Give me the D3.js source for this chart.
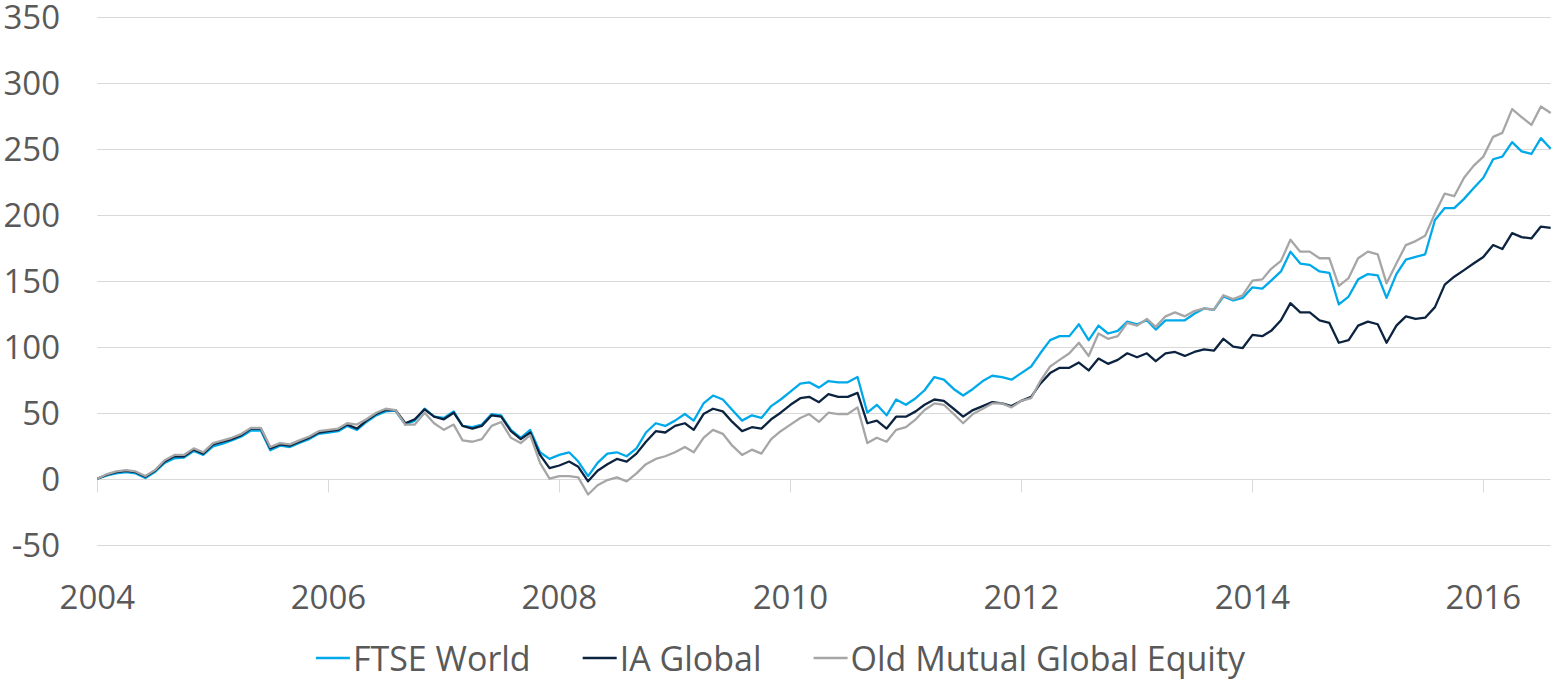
<!DOCTYPE html>
<html>
<head>
<meta charset="utf-8">
<script src="https://cdn.jsdelivr.net/npm/d3@7"></script>
<style>
  html, body { margin: 0; padding: 0; background: #ffffff; }
  svg { display: block; }
</style>
</head>
<body>
<svg id="chart" width="1555" height="681"></svg>
<script>
// ---- data (monthly) ----
const months = [
  "2004-01","2004-02","2004-03","2004-04","2004-05","2004-06","2004-07","2004-08","2004-09","2004-10","2004-11","2004-12",
  "2005-01","2005-02","2005-03","2005-04","2005-05","2005-06","2005-07","2005-08","2005-09","2005-10","2005-11","2005-12",
  "2006-01","2006-02","2006-03","2006-04","2006-05","2006-06","2006-07","2006-08","2006-09","2006-10","2006-11","2006-12",
  "2007-01","2007-02","2007-03","2007-04","2007-05","2007-06","2007-07","2007-08","2007-09","2007-10","2007-11","2007-12",
  "2008-01","2008-02","2008-03","2008-04","2008-05","2008-06","2008-07","2008-08","2008-09","2008-10","2008-11","2008-12",
  "2009-01","2009-02","2009-03","2009-04","2009-05","2009-06","2009-07","2009-08","2009-09","2009-10","2009-11","2009-12",
  "2010-01","2010-02","2010-03","2010-04","2010-05","2010-06","2010-07","2010-08","2010-09","2010-10","2010-11","2010-12",
  "2011-01","2011-02","2011-03","2011-04","2011-05","2011-06","2011-07","2011-08","2011-09","2011-10","2011-11","2011-12",
  "2012-01","2012-02","2012-03","2012-04","2012-05","2012-06","2012-07","2012-08","2012-09","2012-10","2012-11","2012-12",
  "2013-01","2013-02","2013-03","2013-04","2013-05","2013-06","2013-07","2013-08","2013-09","2013-10","2013-11","2013-12",
  "2014-01","2014-02","2014-03","2014-04","2014-05","2014-06","2014-07","2014-08","2014-09","2014-10","2014-11","2014-12",
  "2015-01","2015-02","2015-03","2015-04","2015-05","2015-06","2015-07","2015-08","2015-09","2015-10","2015-11","2015-12",
  "2016-01","2016-02","2016-03","2016-04","2016-05","2016-06","2016-07","2016-08"
];

const ftseWorld = [
  0,2.5,4,5,4,0.5,5,12,15.5,16,21,18,
  24.5,26.5,29,32,36.5,36.5,21.5,25,24,27,30,34,
  35,36,40,37,43,48,51,51.5,41,44,53,47,
  46,51,40,39,41,49,48,37,31,37,20,15,
  18,20,13,2,12,19,20,17,23,35,42,40,
  44,49,44,57,63,60,52,44,48,46,55,60,
  66,72,73,69,74,73,73,77,50,56,48,60,
  56,61,67,77,75,68,63,68,74,78,77,75,
  80,85,95,105,108,108,117,105,116,110,112,119,
  117,120,113,120,120,120,125,129,128,138,135,137,
  145,144,150,157,172,163,162,157,156,132,138,151,
  155,154,137,155,166,168,170,196,205,205,212,220,
  228,242,244,255,248,246,258,250
];

const iaGlobal = [
  0,3,5,6,5,1.5,6,13,17,17,22,19,
  26,28,30,33,38,38,23,26,25,28,31,35,
  36,37,41,38,44,49,52,52,42,45,52.5,47,
  45,50,40,38,40,48,47,36,30,35,18,8,
  10,13,9,-2,6,11,15,13,19,28,36,35,
  40,42,37,49,53,51,43,36,39,38,45,50,
  56,61,62,58,64,62,62,65,42,44,38,47,
  47,51,56,60,59,53,47,52,55,58,57,55,
  59,62,72,80,84,84,88,82,91,87,90,95,
  92,95,89,95,96,93,96,98,97,106,100,99,
  109,108,112,120,133,126,126,120,118,103,105,116,
  119,117,103,116,123,121,122,130,147,153,158,163,
  168,177,174,186,183,182,191,190
];

const oldMutualGlobalEquity = [
  0,3.5,5.5,6.5,5.5,2,6.5,14,18,18,23,20,
  27,29,31,34,38.5,38.5,24,27,26,29,32,36,
  37,38,42,41,45,50,53,52,41,41,50,42,
  37,41,29,28,30,40,43,31,27,33,12,0,
  2,2,1,-12,-5,-1,1,-2,4,11,15,17,
  20,24,20,31,37,34,25,18,22,19,30,36,
  41,46,49,43,50,49,49,54,27,31,28,37,
  39,45,52,57,56,49,42,49,53,57,57,54,
  59,61,74,85,90,95,103,93,110,106,108,118,
  116,121,115,123,126,123,127,129,128,139,136,139,
  150,151,159,165,181,172,172,167,167,146,152,167,
  172,170,148,163,177,180,184,201,216,214,228,237,
  244,259,262,280,274,268,282,277
];

const seriesNames = ["FTSE World", "IA Global", "Old Mutual Global Equity"];
const seriesColors = ["#00a9ea", "#0c2340", "#a6a6a6"];
const yTicks = [-50, 0, 50, 100, 150, 200, 250, 300, 350];
const xTickYears = [2004, 2006, 2008, 2010, 2012, 2014, 2016];

// ---- drawing ----
(function draw() {
  const svg = d3.select("#chart");
  const parse = d3.timeParse("%Y-%m");
  const dates = months.map(parse);

  const plotLeft = 97.3, plotRight = 1550.7, plotTop = 16.7, plotBottom = 544.7;
  const x = d3.scaleTime().domain([dates[0], dates[dates.length - 1]]).range([plotLeft, plotRight]);
  const y = d3.scaleLinear().domain([-50, 350]).range([plotBottom, plotTop]);

  const gridColor = "#d9d9d9";
  const textColor = "#595959";
  const font = "'Open Sans', 'DejaVu Sans', sans-serif";

  // gridlines
  svg.append("g").selectAll("line").data(yTicks).join("line")
    .attr("x1", plotLeft).attr("x2", plotRight)
    .attr("y1", d => Math.round(y(d)) + 0.5).attr("y2", d => Math.round(y(d)) + 0.5)
    .attr("stroke", gridColor).attr("stroke-width", 1);

  // y labels
  svg.append("g").selectAll("text").data(yTicks).join("text")
    .attr("x", 60).attr("y", d => y(d))
    .attr("text-anchor", "end").attr("dominant-baseline", "central")
    .attr("font-family", font).attr("font-size", 33).attr("fill", textColor)
    .text(d => d);

  // x ticks (from the zero line downward)
  const y0 = Math.round(y(0)) + 0.5;
  svg.append("g").selectAll("line").data(xTickYears).join("line")
    .attr("x1", d => Math.round(x(new Date(d, 0, 1))) + 0.5)
    .attr("x2", d => Math.round(x(new Date(d, 0, 1))) + 0.5)
    .attr("y1", y0).attr("y2", y0 + 13)
    .attr("stroke", gridColor).attr("stroke-width", 1);

  svg.append("g").selectAll("text").data(xTickYears).join("text")
    .attr("x", d => x(new Date(d, 0, 1))).attr("y", 596)
    .attr("text-anchor", "middle").attr("dominant-baseline", "central")
    .attr("font-family", font).attr("font-size", 33).attr("fill", textColor)
    .text(d => d);

  // lines
  const allSeries = [ftseWorld, iaGlobal, oldMutualGlobalEquity];
  const line = d3.line().x((d, i) => x(dates[i])).y(d => y(d));
  allSeries.forEach((vals, k) => {
    svg.append("path").datum(vals)
      .attr("d", line)
      .attr("fill", "none")
      .attr("stroke", seriesColors[k])
      .attr("stroke-width", 2.3)
      .attr("stroke-linejoin", "round");
  });

  // legend
  const legend = svg.append("g");
  const legendY = 658;
  const items = seriesNames.map((name, k) => {
    const g = legend.append("g");
    g.append("line").attr("x1", 0).attr("x2", 34).attr("y1", legendY).attr("y2", legendY)
      .attr("stroke", seriesColors[k]).attr("stroke-width", 2.5);
    const t = g.append("text").attr("x", 37).attr("y", legendY)
      .attr("dominant-baseline", "central")
      .attr("font-family", font).attr("font-size", 34).attr("fill", textColor)
      .text(name);
    return { g, w: 37 + t.node().getComputedTextLength() };
  });
  const gap = 52;
  const total = d3.sum(items, d => d.w) + gap * (items.length - 1);
  let cx = 780.5 - total / 2;
  items.forEach(it => { it.g.attr("transform", `translate(${cx},0)`); cx += it.w + gap; });
})();
</script>
</body>
</html>
